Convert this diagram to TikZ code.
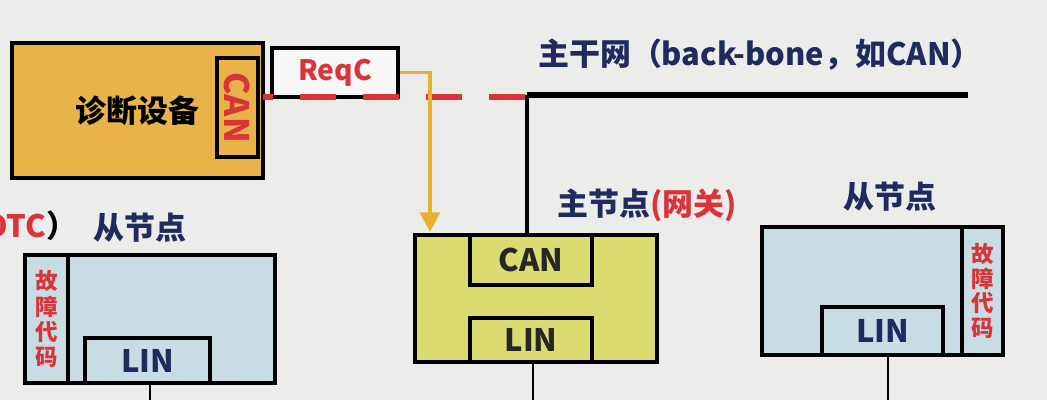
\documentclass[tikz,border=0pt]{standalone}
\usepackage{fontspec}
\setmainfont{Noto Sans CJK SC}
\usetikzlibrary{arrows.meta}
\definecolor{slidebg}{HTML}{ECECEA}
\definecolor{devorange}{HTML}{E8B44A}
\definecolor{gwyellow}{HTML}{DADB70}
\definecolor{nodeblue}{HTML}{C8DCE4}
\definecolor{textnavy}{HTML}{1F2A5E}
\definecolor{textred}{HTML}{D8343A}
\definecolor{reqyellow}{HTML}{E6B232}
\tikzset{
  box/.style={draw=black, line width=2.8pt, inner sep=0pt},
  bigfont/.style={font=\bfseries\fontsize{22}{26}\selectfont},
  dtcfont/.style={font=\bfseries\fontsize{16}{17.5}\selectfont, text=textred, align=center},
  label/.style={bigfont, text=textnavy}
}
\begin{document}
\begin{tikzpicture}[x=0.25mm, y=-0.25mm]
  \fill[slidebg] (0,0) rectangle (1047,400);
  \clip (0,0) rectangle (1047,400);
  \node[box, fill=devorange, minimum width=62.75mm, minimum height=33.75mm, bigfont] (diag) at (137.5,110.5) {诊断设备\hspace{14mm}};
  \node[box, fill=devorange, rotate=-90, minimum width=24.75mm, minimum height=10.25mm, font=\bfseries\fontsize{24}{26}\selectfont, text=textred] (diagcan) at (237.5,107.5) {CAN};
  \node[box, fill=white!60!slidebg, minimum width=31.5mm, minimum height=12.25mm, font=\bfseries\fontsize{20}{24}\selectfont, text=textred] (reqc) at (335,72.5) {ReqC};
  \node[box, fill=gwyellow, minimum width=60.5mm, minimum height=31.75mm] (gw) at (536,298.5) {};
  \node[box, fill=gwyellow, minimum width=30.5mm, minimum height=12.5mm, bigfont, text=black!85] (gwcan) at (531,260) {CAN};
  \node[box, fill=gwyellow, minimum width=30.5mm, minimum height=11mm, bigfont, text=black!85] (gwlin) at (531,340) {LIN};
  \node[box, fill=nodeblue, minimum width=60.25mm, minimum height=32mm] (rs) at (882.5,291) {};
  \node[box, fill=nodeblue, minimum width=10.25mm, minimum height=32mm, dtcfont] (rsdtc) at (982.5,291) {故\\障\\代\\码};
  \node[box, fill=nodeblue, minimum width=30.25mm, minimum height=12mm, label] (rslin) at (882.5,331) {LIN};
  \node[box, fill=nodeblue, minimum width=62.5mm, minimum height=32mm] (ls) at (150,319) {};
  \node[box, fill=nodeblue, minimum width=10.75mm, minimum height=32mm, dtcfont] (lsdtc) at (46.5,319) {\raisebox{-9pt}{\shortstack{故\\障\\代\\码}}};
  \node[box, fill=nodeblue, minimum width=31.25mm, minimum height=11.25mm, label] (lslin) at (147.5,360.5) {LIN};
  \node[label] (bblabel) at (760,55) {主干网（back-bone，如CAN）};
  \node[label] (gwlabel) at (647,205) {主节点{\color{textred}(网关)}};
  \node[label] (rslabel) at (890,197) {从节点};
  \node[label] (lslabel) at (140,228) {从节点};
  \node[label, text=black, anchor=east] (dtclabel) at (82,226) {{\color{textred}DTC}）};
  \coordinate (dstart) at (263,97);
  \coordinate (tap) at (527,95);
  \coordinate (bbend) at (968,95);
  \coordinate (reqtip) at (430,232);
  \coordinate (gwdown) at (533,400);
  \coordinate (lsdown) at (150,400);
  \coordinate (rsdown) at (888,400);
  \begin{scope}[line width=2pt]
    \draw[textred, line width=4.2pt, dash pattern=on 9mm off 6.75mm, dash phase=6.5mm] (dstart) -- (dstart -| tap);
    \draw[line width=4pt] (tap) -- (bbend);
    \draw[line width=3.4pt] (tap) -- (tap |- gw.north);
    \draw[reqyellow, line width=2.8pt, -{Triangle[width=14pt, length=14pt]}] (reqc.east) -| (reqtip);
    \draw (gwlin.south -| gwdown) -- (gwdown);
    \draw (lslin.south -| lsdown) -- (lsdown);
    \draw (rslin.south -| rsdown) -- (rsdown);
  \end{scope}
\end{tikzpicture}
\end{document}
